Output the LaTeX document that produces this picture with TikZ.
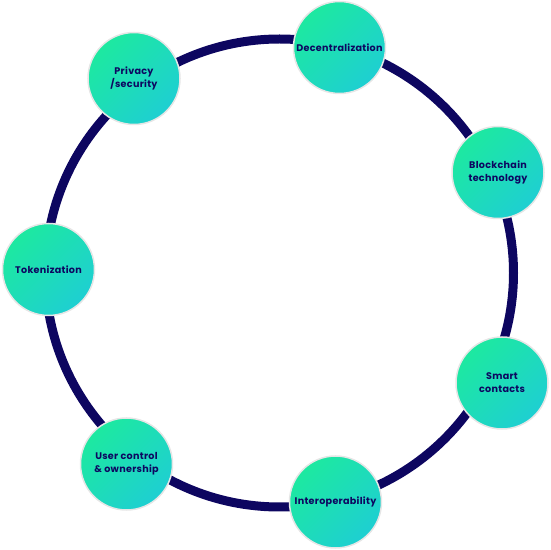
\documentclass[tikz,border=0pt]{standalone}
\usepackage{fontspec}
\setmainfont{Poppins}[LetterSpace=3]
\definecolor{ringnavy}{HTML}{0D0660}
\definecolor{mintgreen}{HTML}{1DE9A0}
\definecolor{aqua}{HTML}{1ECFD2}
\definecolor{rimgray}{HTML}{E6E6E6}
\tikzset{
  topic/.style={circle,minimum size=92pt,inner sep=0pt,draw=rimgray,
    line width=1.5pt,top color=mintgreen,bottom color=aqua,shading angle=45,
    text=ringnavy,align=center,font=\bfseries\fontsize{9.6}{13}\selectfont}
}
\begin{document}
\begin{tikzpicture}[x=1pt,y=1pt]
  \useasboundingbox (0,0) rectangle (550,550);
  % the ring behind the seven topics
  \draw[ringnavy,line width=9pt] (279.5,277) circle (234);
  \node[topic] (decentral)  at (339.5,502.5) {Decentralization};
  \node[topic] (blockchain) at (498,377.5)   {Blockchain\\technology};
  \node[topic] (smart)      at (502,167)     {Smart\\contacts};
  \node[topic] (interop)    at (335.5,48)    {Interoperability};
  \node[topic] (userctrl)   at (126.5,86)    {User control\\\& ownership};
  \node[topic] (token)      at (48.5,280.5)  {Tokenization};
  \node[topic] (privacy)    at (134,471.5)   {Privacy\\/security};
\end{tikzpicture}
\end{document}
